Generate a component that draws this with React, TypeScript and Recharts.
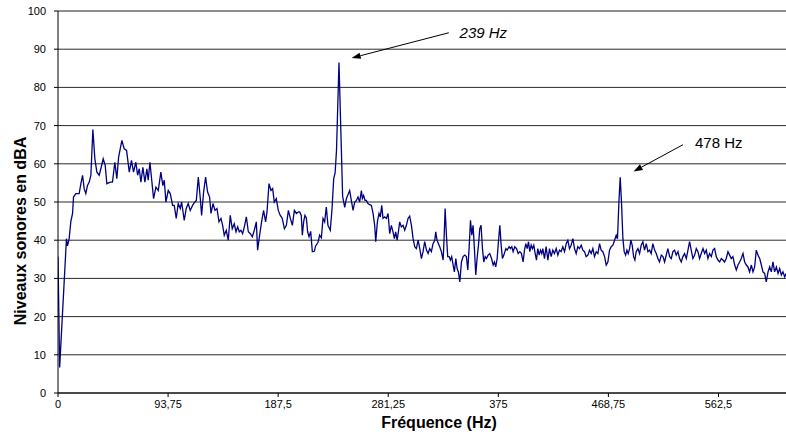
import React from 'react';
import {
  LineChart,
  Line,
  XAxis,
  YAxis,
  CartesianGrid,
  ReferenceLine,
  ReferenceDot,
  Label,
} from 'recharts';

// readings [Hz, dBA] taken off the spectrum, split in three bands
const lowBand: [number, number][] = [
  [0, 35.7], [1.4, 6.7], [7.2, 40.4], [8.1, 38.5], [9.5, 40.4], [10.9, 44.8], [12.4, 47.0], [13.2, 51.3], [15.2, 52.2], [18.0, 52.2],
  [19.5, 54.8], [20.9, 57.0], [22.3, 53.5], [23.7, 52.2], [25.1, 54.3], [26.6, 55.2], [28.0, 57.0], [29.7, 69.0], [31.4, 61.3], [33.1, 57.8],
  [35.1, 57.0], [36.5, 58.7], [38.5, 61.3], [40.2, 59.6], [41.6, 54.8], [44.5, 55.2], [46.4, 55.2], [48.4, 60.4], [50.1, 56.1], [51.6, 61.7],
  [54.4, 66.1], [56.4, 63.9], [58.4, 63.5], [60.7, 57.8], [62.6, 60.9], [64.3, 57.8], [66.3, 60.4], [67.8, 57.0], [69.2, 58.7], [70.6, 55.2],
  [72.3, 59.1], [74.0, 55.2], [75.7, 58.7], [76.8, 55.7], [78.3, 60.4], [79.7, 56.1], [81.4, 50.9], [83.4, 53.9], [85.4, 53.0], [87.6, 57.8],
  [89.3, 54.3], [90.5, 55.7], [91.9, 50.0], [93.9, 53.0], [95.6, 52.2], [97.6, 49.1], [99.0, 49.1], [100.7, 45.7], [102.4, 49.6], [104.1, 48.3],
  [105.3, 50.0], [107.5, 45.2], [109.2, 48.3], [110.9, 49.6], [112.6, 47.8], [114.6, 49.1], [116.6, 50.0], [117.8, 50.4], [119.5, 56.5], [121.2, 50.9],
  [122.3, 46.5], [124.0, 52.6], [125.7, 56.5], [127.4, 52.6], [129.1, 51.3], [130.3, 47.0], [132.0, 49.6], [133.7, 47.8], [135.4, 48.3], [137.1, 44.8],
  [138.8, 45.7], [140.2, 43.9], [141.6, 41.3], [143.3, 42.6], [145.0, 40.0], [146.7, 46.5], [148.4, 43.0], [150.1, 44.3], [151.6, 42.2], [153.0, 43.5],
  [154.4, 42.2], [155.8, 42.6], [157.2, 41.7], [158.7, 43.5], [160.4, 46.1], [162.1, 42.2], [163.8, 41.7], [165.5, 40.9], [167.2, 42.6], [168.9, 44.8],
  [170.0, 37.4], [171.7, 41.3], [173.4, 44.8], [175.1, 47.8], [176.8, 44.8], [178.0, 47.4], [179.7, 54.8], [181.4, 53.0], [182.8, 53.5], [184.2, 50.0],
  [185.9, 50.9], [187.6, 47.8], [189.3, 46.5], [191.0, 45.7], [192.8, 43.0], [194.5, 43.9], [196.2, 47.8], [197.9, 45.7], [199.6, 43.9], [201.3, 47.8],
  [203.0, 47.0], [204.7, 47.4],
];

const midBand: [number, number][] = [
  [205.8, 47.4], [207.2, 46.5], [208.1, 41.3], [209.2, 44.8], [210.3, 46.5], [211.5, 45.8], [212.6, 42.2], [213.8, 40.9], [215.2, 42.3], [216.6, 37.0],
  [218.3, 37.1], [219.4, 38.5], [221.4, 39.4], [222.8, 41.3], [224.3, 40.6], [225.7, 45.7], [227.1, 44.8], [228.5, 48.7], [229.9, 43.9], [231.9, 42.6],
  [233.4, 48.3], [234.8, 56.1], [236.0, 57.6], [237.2, 63.6], [239.3, 86.5], [242.4, 51.5], [244.2, 48.6], [245.6, 50.9], [248.4, 53.0], [249.8, 50.4],
  [251.3, 47.8], [252.7, 50.0], [254.1, 50.4], [255.5, 51.3], [256.9, 50.0], [258.4, 53.0], [259.2, 50.9], [260.3, 51.7], [261.5, 50.4], [262.6, 50.4],
  [264.0, 49.6], [265.5, 49.3], [266.9, 49.1], [268.3, 47.0], [269.7, 43.9], [270.6, 39.6], [272.0, 44.8], [273.4, 47.0], [274.5, 46.1], [275.7, 49.1],
  [276.8, 45.7], [278.2, 46.1], [279.7, 45.7], [281.1, 47.0], [282.5, 41.7], [283.9, 43.9], [285.3, 42.2], [286.5, 40.4], [287.6, 42.2], [288.8, 40.0],
  [289.9, 42.2], [291.0, 44.8], [292.4, 43.5], [293.9, 43.9], [295.3, 42.6], [296.7, 43.9], [298.1, 45.7], [299.5, 46.3], [301.0, 43.9], [302.4, 40.4],
  [303.8, 38.3], [305.2, 37.8], [306.7, 40.0], [308.1, 37.8], [309.5, 35.2], [310.9, 37.0], [312.3, 39.6], [313.8, 37.4], [315.2, 36.5], [316.6, 37.8],
  [318.0, 37.0], [319.4, 39.1], [320.9, 40.0], [321.7, 42.2], [322.8, 40.0], [324.0, 39.1], [325.1, 38.3], [326.5, 37.0], [328.0, 34.8], [328.8, 40.4],
  [329.7, 48.3], [330.8, 41.3], [331.9, 35.7], [333.1, 35.7], [334.2, 34.8], [335.3, 35.7], [336.5, 33.5], [337.6, 31.7], [338.8, 35.2], [339.9, 32.6],
  [341.0, 31.7], [342.2, 29.1], [343.6, 34.3], [345.0, 35.7], [346.4, 36.1], [347.8, 35.7], [349.0, 32.2], [350.1, 37.8], [351.3, 45.2], [352.4, 41.3],
  [353.5, 43.9], [354.7, 37.4], [355.8, 30.9], [356.9, 35.2], [358.1, 38.7], [359.2, 43.0], [360.3, 43.9], [361.5, 37.8], [362.6, 34.3], [363.8, 35.7],
  [364.9, 35.2], [366.3, 36.1], [367.7, 36.5], [369.2, 35.2], [370.6, 33.5], [371.7, 34.3], [372.8, 33.0], [374.0, 35.2], [375.1, 39.6], [376.3, 43.9],
  [377.4, 38.7], [378.5, 35.2], [379.7, 36.1], [381.4, 37.8], [382.5, 37.4], [384.2, 38.3], [385.3, 37.8], [386.5, 38.3], [387.6, 37.0], [389.0, 38.3],
  [390.5, 37.8], [391.9, 36.5], [393.3, 37.0], [394.7, 36.5], [396.1, 34.3], [397.3, 37.4], [398.4, 39.1], [399.6, 37.8], [400.7, 39.6], [401.8, 37.0],
  [403.0, 38.7], [404.1, 37.8], [405.2, 38.7], [406.4, 36.5], [407.5, 34.8], [408.6, 37.8], [409.8, 36.1], [410.9, 37.4], [412.0, 36.5],
];

const highBand: [number, number][] = [
  [412.9, 37.8], [414.3, 35.2], [415.7, 38.3], [417.2, 34.8], [418.6, 37.8], [420.0, 35.7], [421.4, 37.4], [422.8, 36.5], [424.3, 37.8], [425.7, 36.1],
  [427.1, 37.4], [428.5, 37.0], [429.9, 38.3], [431.4, 37.0], [432.8, 39.1], [434.2, 40.0], [435.6, 37.8], [437.0, 38.7], [438.5, 40.4], [439.9, 37.8],
  [441.3, 36.5], [442.7, 38.3], [444.1, 37.8], [445.6, 38.7], [447.0, 37.4], [448.4, 37.0], [449.8, 35.7], [451.3, 36.1], [452.7, 37.4], [454.1, 36.5],
  [455.5, 37.8], [456.9, 35.7], [458.4, 37.0], [459.8, 36.5], [461.2, 39.1], [462.6, 37.4], [464.0, 37.0], [465.5, 35.7], [466.9, 33.5], [468.3, 34.3],
  [469.7, 37.4], [471.1, 38.3], [472.6, 38.7], [474.0, 40.0], [475.4, 41.3], [476.5, 40.4], [477.7, 50.0], [478.8, 56.5], [479.9, 50.0], [481.1, 40.4],
  [482.2, 37.0], [483.4, 36.1], [484.5, 37.4], [485.6, 36.5], [486.8, 37.8], [487.9, 40.0], [489.0, 38.7], [490.2, 35.7], [491.3, 34.8], [492.4, 37.0],
  [493.9, 37.8], [495.3, 36.5], [496.7, 38.7], [498.1, 39.6], [499.5, 37.4], [501.0, 39.1], [502.4, 37.0], [503.8, 37.4], [505.2, 36.5], [506.6, 39.1],
  [508.1, 37.4], [509.5, 36.5], [510.9, 35.2], [512.3, 34.3], [513.8, 36.1], [515.2, 35.7], [516.6, 34.3], [518.0, 36.1], [519.4, 37.8], [520.9, 35.7],
  [522.3, 35.2], [523.7, 37.0], [525.1, 37.4], [526.5, 36.1], [528.0, 37.0], [529.4, 35.2], [530.8, 34.3], [532.2, 35.7], [533.6, 36.5], [535.1, 35.2],
  [536.5, 37.4], [537.9, 39.6], [539.3, 37.4], [540.7, 35.2], [542.2, 36.1], [543.6, 37.8], [545.0, 37.0], [546.4, 35.2], [547.8, 36.5], [549.3, 37.8],
  [550.7, 36.5], [552.1, 37.4], [553.5, 35.2], [554.9, 36.5], [556.4, 35.7], [557.8, 37.4], [559.2, 37.8], [560.6, 35.7], [562.0, 34.8], [563.5, 34.3],
  [564.9, 35.2], [566.3, 34.8], [567.7, 34.3], [569.1, 35.2], [570.6, 37.0], [572.0, 36.1], [573.4, 35.2], [574.8, 35.7], [576.3, 33.5], [577.7, 32.2],
  [579.1, 33.5], [580.5, 34.3], [581.9, 35.2], [583.4, 36.5], [584.8, 34.3], [586.2, 33.5], [587.6, 33.0], [589.0, 31.7], [590.5, 33.5], [591.9, 31.7],
  [593.3, 33.0], [594.7, 37.4], [596.1, 36.1], [597.6, 35.2], [599.0, 33.5], [600.4, 31.7], [601.8, 31.3], [603.2, 29.1], [604.7, 31.7], [606.1, 33.0],
  [607.5, 31.7], [608.9, 34.3], [610.3, 31.7], [611.8, 33.0], [613.2, 31.3], [614.6, 32.6], [616.0, 30.9], [617.4, 31.7], [618.9, 30.4], [620.0, 31.3],
];

const freqTicks = [0, 93.75, 187.5, 281.25, 375, 468.75, 562.5];
const levelTicks = [0, 10, 20, 30, 40, 50, 60, 70, 80, 90, 100];

// peak callouts (arrow tail, arrow head, text anchor) in chart units
const callouts = [
  { text: '239 Hz', italic: true, from: { x: 332.8, y: 94.3 }, to: { x: 250.1, y: 87.7 }, at: { x: 342, y: 94.5 } },
  { text: '478 Hz', italic: false, from: { x: 532.3, y: 65.0 }, to: { x: 490.2, y: 58.0 }, at: { x: 542.5, y: 65.6 } },
];

const FONT = '"Liberation Sans", Arial, sans-serif';

const data = [...lowBand, ...midBand, ...highBand].map(([f, db]) => ({ f, db }));

const Arrow = (props: any) => {
  const { x1, y1, x2, y2 } = props;
  const a = Math.atan2(y2 - y1, x2 - x1);
  const len = 9;
  const half = 3.2;
  const bx = x2 - len * Math.cos(a);
  const by = y2 - len * Math.sin(a);
  const px = -Math.sin(a) * half;
  const py = Math.cos(a) * half;
  return (
    <g>
      <line x1={x1} y1={y1} x2={bx} y2={by} stroke="#000" strokeWidth={1} />
      <polygon points={`${x2},${y2} ${bx + px},${by + py} ${bx - px},${by - py}`} fill="#000" />
    </g>
  );
};

const App = () => {
  return (
    <div style={{ width: 786, height: 435 }}>
      <style>{'body{margin:0}'}</style>
      <LineChart width={786} height={435} data={data} margin={{ top: 11, right: 0, bottom: 0, left: 0 }}>
        <CartesianGrid vertical={false} stroke="#2a2a2a" strokeWidth={1} />
        <XAxis
          dataKey="f"
          type="number"
          domain={[0, 620]}
          ticks={freqTicks}
          allowDataOverflow
          height={42}
          stroke="#000"
          tickSize={4}
          tickMargin={3}
          tick={{ fontSize: 11, fill: '#000', fontFamily: FONT }}
          tickFormatter={(v: number) => String(v).replace('.', ',')}
        >
          <Label
            content={() => (
              <text x={439} y={428} textAnchor="middle" fontFamily={FONT} fontSize={16} fontWeight="bold" fill="#000">
                Fréquence (Hz)
              </text>
            )}
          />
        </XAxis>
        <YAxis
          type="number"
          domain={[0, 100]}
          ticks={levelTicks}
          width={58}
          stroke="#000"
          tickSize={4}
          tickMargin={8}
          tick={{ fontSize: 11, fill: '#000', fontFamily: FONT }}
        >
          <Label
            content={() => (
              <text
                x={26}
                y={231}
                transform="rotate(-90 26 231)"
                textAnchor="middle"
                fontFamily={FONT}
                fontSize={16}
                fontWeight="bold"
                fill="#000"
              >
                Niveaux sonores en dBA
              </text>
            )}
          />
        </YAxis>
        <ReferenceLine y={100} stroke="#8a8a8a" />
        <Line
          type="linear"
          dataKey="db"
          stroke="#000080"
          strokeWidth={1.3}
          dot={false}
          isAnimationActive={false}
        />
        {callouts.map((c) => (
          <ReferenceLine key={c.text + '-arrow'} segment={[c.from, c.to]} shape={(p: any) => <Arrow {...p} />} />
        ))}
        {callouts.map((c) => (
          <ReferenceDot
            key={c.text}
            x={c.at.x}
            y={c.at.y}
            r={0}
            shape={(p: any) => (
              <text
                x={p.cx}
                y={p.cy}
                dominantBaseline="central"
                fontFamily={FONT}
                fontSize={15}
                fontStyle={c.italic ? 'italic' : 'normal'}
                fill="#000"
              >
                {c.text}
              </text>
            )}
          />
        ))}
      </LineChart>
    </div>
  );
};

export default App;
